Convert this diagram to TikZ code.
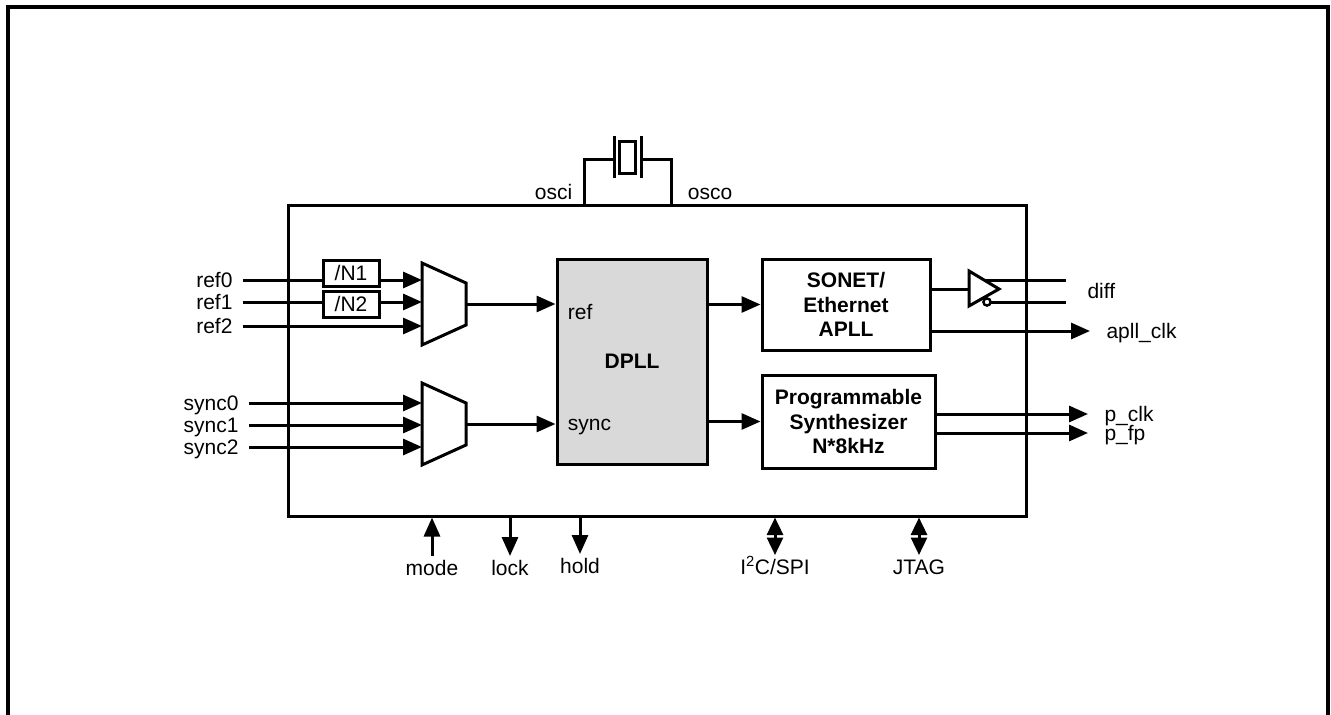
\documentclass[tikz,border=0pt]{standalone}
\usepackage{fontspec}
\setmainfont{Liberation Sans}
\usetikzlibrary{arrows.meta}
\definecolor{dpllgray}{RGB}{217,217,217}
\begin{document}
\begin{tikzpicture}[x=1pt, y=-1pt, line width=3pt,
	every node/.style={font=\fontsize{21}{24}\selectfont},
	blk/.style={draw, align=center, inner sep=0pt, font=\fontsize{21}{24.5}\selectfont\bfseries},
	div/.style={draw, inner sep=0pt, minimum width=56pt, minimum height=26pt},
	arr/.style={-{Triangle[length=19pt,width=16pt]}},
	darr/.style={{Triangle[length=17.5pt,width=16pt]}-{Triangle[length=17.5pt,width=16pt]}},
	inlbl/.style={anchor=east, inner xsep=9pt, text height=14.7pt, text depth=0pt},
	outlbl/.style={anchor=west, inner xsep=15pt, text height=14.7pt, text depth=0pt},
	botlbl/.style={anchor=north, inner sep=3pt, text height=15pt, text depth=4pt}]
	\useasboundingbox (0,0) rectangle (1331,715);
	
	% page frame
	\draw[line width=3.5pt] (8,720) -- (8,7) -- (1328,7) -- (1328,720);
	
	% chip and blocks
	\node[draw, minimum width=738pt, minimum height=311pt] (chip) at (657,360.5) {};
	\node[blk, fill=dpllgray, minimum width=150pt, minimum height=205pt] (dpll) at (632,361.5) {DPLL};
	\node[blk, minimum width=168pt, minimum height=91pt] (sonet) at (846,304.5) {SONET/\\Ethernet\\APLL};
	\node[blk, minimum width=173pt, minimum height=93pt] (synth) at (848.5,421.5) {Programmable\\Synthesizer\\N*8kHz};
	\node[anchor=base west] (dref) at (563,319) {ref};
	\node[anchor=base west] (dsync) at (563,430) {sync};
	
	% crystal
	\coordinate (osc1) at (584,205);
	\coordinate (osc2) at (671,205);
	\draw (osc1) |- (614,159);
	\draw (614,136) -- (614,178);
	\draw (619,141) rectangle (635,173);
	\draw (641,136) -- (641,178);
	\draw (641,159) -| (osc2);
	\node[anchor=base east] (osci) at (577,199) {osci};
	\node[anchor=base west] (osco) at (683,199) {osco};
	
	% ref mux
	\draw (422,263) -- (466,283) -- (466,325) -- (422,345) -- cycle;
	\coordinate (refin0) at (422,280);
	\coordinate (refin1) at (422,302);
	\coordinate (refin2) at (422,326);
	\coordinate (refout) at (466,304);
	\node[div] (n1) at (351,273) {/N1};
	\node[div] (n2) at (351,304) {/N2};
	\node[inlbl] (ref0) at (243,280) {ref0};
	\node[inlbl] (ref1) at (243,302) {ref1};
	\node[inlbl] (ref2) at (243,326) {ref2};
	\draw (ref0) -- (ref0 -| n1.west);
	\draw[arr] (ref0 -| n1.east) -- (refin0);
	\draw (ref1) -- (ref1 -| n2.west);
	\draw[arr] (ref1 -| n2.east) -- (refin1);
	\draw[arr] (ref2) -- (refin2);
	\draw[arr] (refout) -- (refout -| dpll.west);
	
	% sync mux
	\draw (422,383) -- (466,403) -- (466,445) -- (422,465) -- cycle;
	\coordinate (syncin0) at (422,403);
	\coordinate (syncin1) at (422,425);
	\coordinate (syncin2) at (422,447);
	\coordinate (syncout) at (466,424);
	\node[inlbl] (sync0) at (249,403) {sync0};
	\node[inlbl] (sync1) at (249,425) {sync1};
	\node[inlbl] (sync2) at (249,447) {sync2};
	\draw[arr] (sync0) -- (syncin0);
	\draw[arr] (sync1) -- (syncin1);
	\draw[arr] (sync2) -- (syncin2);
	\draw[arr] (syncout) -- (syncout -| dpll.west);
	
	% dpll outputs
	\draw[arr] (dpll.east |- sonet.west) -- (sonet.west);
	\draw[arr] (dpll.east |- synth.west) -- (synth.west);
	
	% diff buffer
	\coordinate (bufin) at (969,289);
	\coordinate (bufp) at (984,280);
	\coordinate (bufn) at (991,302);
	\draw (969,271) -- (999,289) -- (969,306) -- cycle;
	\draw[line width=2.4pt] (987,302) circle (3.6pt);
	\draw (sonet.east |- bufin) -- (bufin);
	\node[outlbl, inner xsep=20pt] (diff) at (1066,291) {diff};
	\draw (bufp) -- (bufp -| diff.west);
	\draw (bufn) -- (bufn -| diff.west);
	
	% outputs
	\node[outlbl] (apll) at (1090,331) {apll\_clk};
	\node[outlbl] (pclk) at (1088,414) {p\_clk};
	\node[outlbl] (pfp) at (1088,433) {p\_fp};
	\draw[arr] (sonet.east |- apll) -- (apll.west);
	\draw[arr] (synth.east |- pclk) -- (pclk.west);
	\draw[arr] (synth.east |- pfp) -- (pfp.west);
	
	% bottom pins
	\node[botlbl] (mode) at (432,556) {mode};
	\node[botlbl] (lock) at (510,556) {lock};
	\node[botlbl] (hold) at (580,554) {hold};
	\node[botlbl] (i2c) at (775,555) {I\textsuperscript{2}C/SPI};
	\node[botlbl] (jtag) at (919,555) {JTAG};
	\draw[arr] (mode.north) -- (mode.north |- chip.south);
	\draw[arr] (lock.north |- chip.south) -- (lock.north);
	\draw[arr] (hold.north |- chip.south) -- (hold.north);
	\draw[darr] (i2c.north |- chip.south) -- (i2c.north);
	\draw[darr] (jtag.north |- chip.south) -- (jtag.north);
	
\end{tikzpicture}
\end{document}
